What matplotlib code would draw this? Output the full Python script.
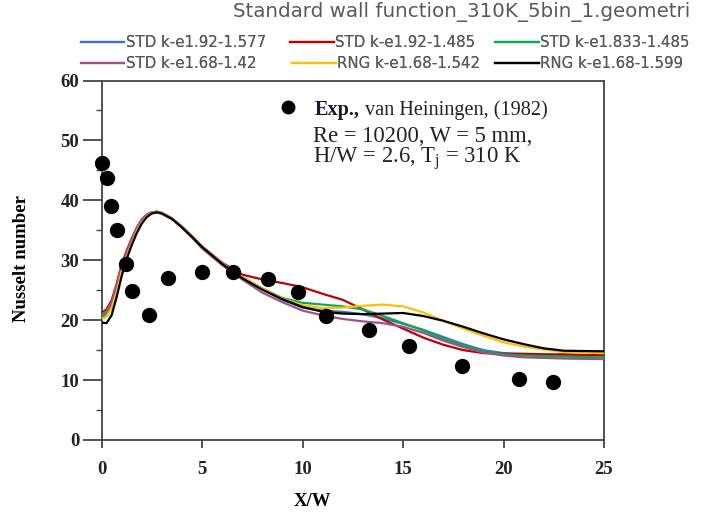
import matplotlib
matplotlib.use("Agg")
import matplotlib.pyplot as plt
from matplotlib.ticker import MultipleLocator

plt.rcParams["mathtext.fontset"] = "custom"
plt.rcParams["mathtext.rm"] = "Liberation Serif"
plt.rcParams["mathtext.it"] = "Liberation Serif:italic"
plt.rcParams["mathtext.bf"] = "Liberation Serif:bold"

# Experimental data (van Heiningen, 1982)
exp_x = [0.0, 0.25, 0.46, 0.75, 1.21, 1.52, 2.35, 3.31, 5.02, 6.55, 8.29, 9.78,
         11.18, 13.31, 15.29, 17.96, 20.76, 22.47]
exp_nu = [46.3, 43.8, 39.0, 35.0, 29.4, 24.8, 20.8, 27.0, 28.0, 28.1, 26.8, 24.7,
          20.7, 18.4, 15.7, 12.4, 10.1, 9.6]

# Simulated Nusselt number along the wall
sim_x = [0, 0.25, 0.5, 0.75, 1, 1.25, 1.5, 1.75, 2, 2.25, 2.5, 2.75, 3, 3.5, 4, 4.5,
         5, 6, 7, 8, 9, 10, 11, 12, 13, 14, 15, 16, 17, 18, 19, 20, 21, 22, 23, 24, 25]

std_192_1577 = [20.4, 20.9, 22.3, 25.0, 28.5, 30.8, 32.9, 34.9, 36.4, 37.4, 37.9, 38.0,
                37.8, 36.9, 35.5, 33.9, 32.2, 29.5, 27.2, 25.2, 23.4, 22.1, 21.6, 21.4,
                21.0, 20.3, 19.4, 18.4, 17.2, 16.0, 15.0, 14.5, 14.3, 14.2, 14.15, 14.1, 14.1]
std_192_1485 = [21.2, 21.8, 23.3, 26.0, 29.3, 31.6, 33.6, 35.4, 36.8, 37.6, 38.0, 38.1,
                37.9, 37.0, 35.6, 34.0, 32.3, 29.6, 27.6, 26.8, 26.2, 25.5, 24.4, 23.4,
                21.8, 20.1, 18.6, 17.1, 15.9, 15.0, 14.5, 14.4, 14.4, 14.3, 14.3, 14.2, 14.2]
std_1833_1485 = [20.6, 21.1, 22.6, 25.3, 28.8, 31.1, 33.1, 35.0, 36.5, 37.5, 37.9, 38.0,
                 37.8, 36.9, 35.5, 33.9, 32.2, 29.5, 27.2, 25.3, 23.7, 22.9, 22.6, 22.3,
                 21.8, 20.7, 19.5, 18.3, 16.9, 15.8, 14.8, 14.3, 14.1, 14.0, 13.9, 13.85, 13.8]
std_168_142 = [20.9, 21.5, 23.0, 25.8, 29.1, 31.4, 33.4, 35.3, 36.7, 37.6, 38.0, 38.1,
               37.9, 37.0, 35.5, 33.8, 32.0, 29.2, 26.8, 24.6, 23.0, 21.6, 20.8, 20.2,
               19.8, 19.5, 18.9, 17.9, 16.6, 15.5, 14.6, 14.1, 13.8, 13.7, 13.6, 13.55, 13.5]
rng_168_1542 = [20.2, 20.6, 22.0, 24.6, 28.1, 30.6, 32.8, 34.8, 36.3, 37.3, 37.9, 38.0,
                37.8, 36.9, 35.5, 33.9, 32.2, 29.5, 27.2, 25.3, 23.6, 22.5, 22.0, 22.1,
                22.4, 22.6, 22.3, 21.3, 19.9, 18.6, 17.4, 16.3, 15.6, 15.1, 14.7, 14.6, 14.5]
rng_168_1599 = [19.6, 19.5, 20.8, 23.8, 27.3, 30.2, 32.5, 34.5, 36.1, 37.2, 37.8, 38.0,
                37.8, 36.9, 35.5, 33.9, 32.2, 29.4, 27.0, 25.1, 23.5, 22.2, 21.4, 21.1,
                21.0, 21.1, 21.2, 20.7, 19.9, 18.9, 17.8, 16.8, 16.0, 15.3, 14.9, 14.85, 14.8]

series = [
    ("STD k-e1.92-1.577", std_192_1577, "#4472C4"),
    ("STD k-e1.92-1.485", std_192_1485, "#C00000"),
    ("STD k-e1.833-1.485", std_1833_1485, "#00B050"),
    ("STD k-e1.68-1.42", std_168_142, "#9E5285"),
    ("RNG k-e1.68-1.542", rng_168_1542, "#FFC000"),
    ("RNG k-e1.68-1.599", rng_168_1599, "#000000"),
]

serif = ["Liberation Serif", "DejaVu Serif"]
sans = ["DejaVu Sans"]

fig = plt.figure(figsize=(7.02, 5.22), dpi=100)
W, H = 702, 522
ax = fig.add_axes([101.5 / W, 1 - 440 / H, (604 - 101.5) / W, (440 - 80.5) / H])

handles = {}
for label, vals, color in series:
    (ln,) = ax.plot(sim_x, vals, color=color, lw=1.6, label=label, zorder=3,
                    solid_joinstyle="round")
    handles[label] = ln

ax.plot(exp_x, exp_nu, "o", color="black", ms=10, zorder=4, clip_on=False)

ax.set_xlim(0, 25)
ax.set_ylim(0, 60)
ax.xaxis.set_major_locator(MultipleLocator(5))
ax.yaxis.set_major_locator(MultipleLocator(10))
ax.yaxis.set_minor_locator(MultipleLocator(5))

spine_col = "#444444"
for s in ax.spines.values():
    s.set_color(spine_col)
    s.set_linewidth(1.3)
ax.tick_params(axis="y", which="major", direction="out", length=13.5, width=1.3,
               color=spine_col, pad=2.5)
ax.tick_params(axis="y", which="minor", direction="out", length=4, width=1.0,
               color=spine_col)
ax.tick_params(axis="x", which="major", direction="out", length=6, width=1.3,
               color=spine_col, pad=9)
for t in ax.get_xticklabels() + ax.get_yticklabels():
    t.set_fontfamily(serif)
    t.set_fontsize(13.5)
    t.set_fontweight("bold")
    t.set_color("#222222")

ax.set_xlabel("X/W", fontfamily=serif, fontsize=13.5, fontweight="bold")
ax.xaxis.set_label_coords(0.419, -0.148)
ax.set_ylabel("Nusselt number", fontfamily=serif, fontsize=13.5, fontweight="bold")
ax.yaxis.set_label_coords(-0.142, 0.506)

# Annotation block
ax.plot([9.28], [55.5], "o", color="black", ms=9, zorder=5)
t_exp = ax.text(10.62, 54.3, "Exp.,", fontfamily=serif, fontsize=14.6, fontweight="bold",
                va="baseline", color="#1a1a2e")
ax.annotate("van Heiningen, (1982)", xy=(1, 0), xycoords=t_exp, xytext=(3.5, 0),
            textcoords="offset points", va="bottom", fontfamily=serif, fontsize=14.6,
            color="#222222")
ax.text(10.5, 49.7, "Re = 10200, W = 5 mm,", fontfamily=serif, fontsize=16.3,
        va="baseline", color="#222222")
ax.text(10.5, 46.2, r"H/W = 2.6, T$_\mathrm{j}$ = 310 K", fontfamily=serif,
        fontsize=16.3, va="baseline", color="#222222")

# Title and legend above the plot
fig.text(461.5 / W, 1 - 12.5 / H, "Standard wall function_310K_5bin_1.geometri",
         ha="center", va="center", fontfamily=sans, fontsize=14.3, color="#595959")

legend_slots = [
    ("STD k-e1.92-1.577", 80.7, 42.3),
    ("STD k-e1.92-1.485", 290, 42.3),
    ("STD k-e1.833-1.485", 495, 42.3),
    ("STD k-e1.68-1.42", 80.7, 63.3),
    ("RNG k-e1.68-1.542", 292, 63.3),
    ("RNG k-e1.68-1.599", 495, 63.3),
]
for label, lx, ly in legend_slots:
    lg = fig.legend([handles[label]], [label], loc="center left",
                    bbox_to_anchor=(lx / W, 1 - ly / H), frameon=False,
                    prop={"family": sans, "size": 10.8}, handlelength=2.9,
                    handletextpad=0.1, borderpad=0, borderaxespad=0)
    for t in lg.get_texts():
        t.set_color("#595959")
    fig.add_artist(lg)

fig.savefig("out.png", dpi=100)
